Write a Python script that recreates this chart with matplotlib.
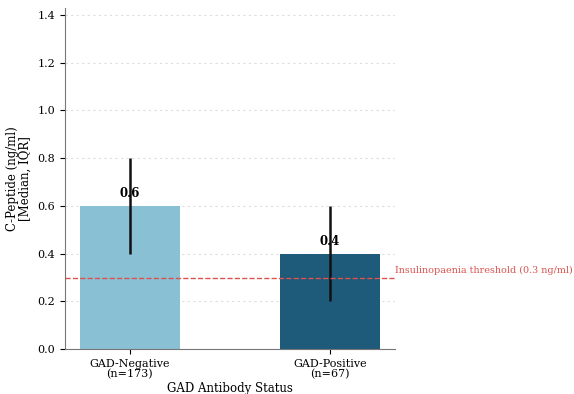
import matplotlib
matplotlib.use("Agg")
import matplotlib.pyplot as plt

categories = ["GAD-Negative\n(n=173)", "GAD-Positive\n(n=67)"]
medians = [0.6, 0.4]
q1 = [0.4, 0.2]
q3 = [0.8, 0.6]
threshold = 0.3
colors = ["#89c0d3", "#1e5a7a"]

plt.rcParams['font.family'] = ['DejaVu Serif']
fig = plt.figure(figsize=(5.74, 3.94), dpi=100)
ax = fig.add_axes([0.113, 0.114, 0.575, 0.866])

x = list(range(len(categories)))
yerr = [[m - a for m, a in zip(medians, q1)], [b - m for m, b in zip(medians, q3)]]
ax.bar(x, medians, width=0.5, color=colors, yerr=yerr, ecolor='#111111',
       error_kw=dict(lw=1.8, capsize=0), zorder=2)
for xi, m in zip(x, medians):
    ax.text(xi, m + 0.05, f"{m:.1f}", ha='center', va='center', fontsize=8.5,
            fontweight='bold', zorder=3)

ax.axhline(threshold, color='#d9534f', ls='--', lw=1, zorder=3)
ax.text(1.325, threshold + 0.012, "Insulinopaenia threshold (0.3 ng/ml)",
        color='#d9534f', fontsize=6.9, va='bottom', ha='left', clip_on=False)

ax.set_ylim(0, 1.43)
ax.set_yticks([0, 0.2, 0.4, 0.6, 0.8, 1.0, 1.2, 1.4])
ax.set_xticks(x)
ax.set_xticklabels(categories, fontsize=8, linespacing=1.0)
ax.tick_params(axis='y', labelsize=8)
ax.set_ylabel("C-Peptide (ng/ml)\n[Median, IQR]", fontsize=8.5, linespacing=1.0)
ax.set_xlabel("GAD Antibody Status", fontsize=8.5, labelpad=2)
ax.grid(axis='y', ls=(0, (2, 3)), color='#dddddd', lw=0.8, zorder=0)
ax.set_axisbelow(True)
ax.spines['top'].set_visible(False)
ax.spines['right'].set_visible(False)
for s in ['left', 'bottom']:
    ax.spines[s].set_color('#777777')

fig.savefig("out.png", dpi=100)
